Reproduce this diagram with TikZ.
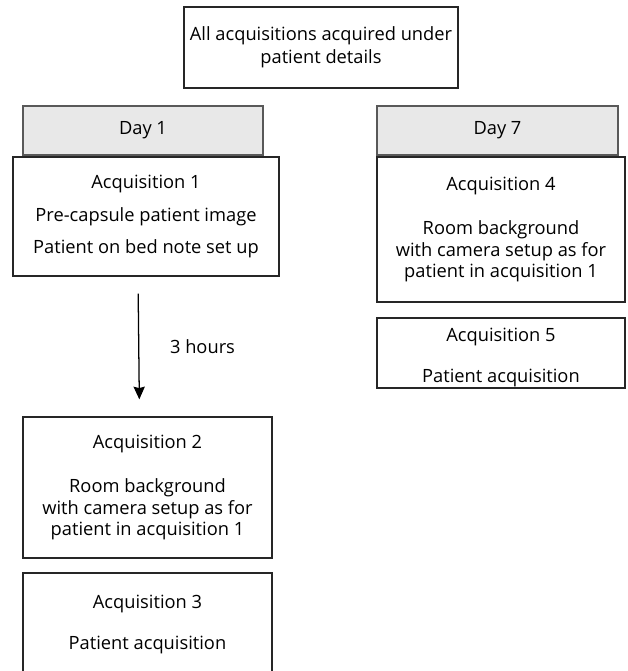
\documentclass[tikz,border=0pt]{standalone}
\usepackage{fontspec}
\setmainfont{Open Sans}
\usepackage{tikz}
\usetikzlibrary{arrows.meta,positioning}

\begin{document}
\begin{tikzpicture}[
    x=0.025cm, y=-0.025cm,
    font=\fontsize{13}{15.3}\selectfont,
    box/.style={draw=black!85, line width=0.9pt, align=center, inner sep=0pt},
    dayhead/.style={draw=black!65, line width=0.8pt, fill=black!9, align=center, inner sep=0pt, minimum width=6cm, minimum height=1.225cm},
    >={Stealth[length=9pt, width=8pt, inset=1pt]}
]
\useasboundingbox (0,0) rectangle (627,671);

\node[box, minimum width=6.85cm, minimum height=2.025cm] (all) at (321,47.5) {All acquisitions acquired under\\[1pt]patient details};

% day 1 column
\node[dayhead] (day1) at (143,130.5) {Day 1};
\node[box, fill=white, minimum width=6.65cm, minimum height=2.975cm] (acq1) at (146,216.5) {Acquisition 1\\[7.5pt]Pre-capsule patient image\\[7.5pt]Patient on bed note set up};
\node[box, minimum width=6.225cm, minimum height=3.525cm] (acq2) at (147.5,487.5) {Acquisition 2\\[16pt]Room background\\with camera setup as for\\patient in acquisition 1};
\node[box, minimum width=6.225cm, minimum height=2.575cm] (acq3) at (147.5,624.5) {Acquisition 3\\[14.5pt]Patient acquisition};

% day 7 column
\node[dayhead, minimum width=6.025cm] (day7) at (497.5,130.5) {Day 7};
\node[box, fill=white, minimum width=6.2cm, minimum height=3.625cm] (acq4) at (501,229.5) {Acquisition 4\\[16pt]Room background\\with camera setup as for\\patient in acquisition 1};
\node[box, minimum width=6.2cm, minimum height=1.75cm] (acq5) at (501,353) {\rule{0pt}{16pt}Acquisition 5\\[14pt]Patient acquisition};

\draw[->, line width=0.9pt, shorten <=0.425cm, shorten >=0.425cm] ([xshift=-0.2cm]acq1.south) -- node[right=0.65cm] (hours) {3 hours} ([xshift=-0.2cm]acq2.north);
\end{tikzpicture}
\end{document}
